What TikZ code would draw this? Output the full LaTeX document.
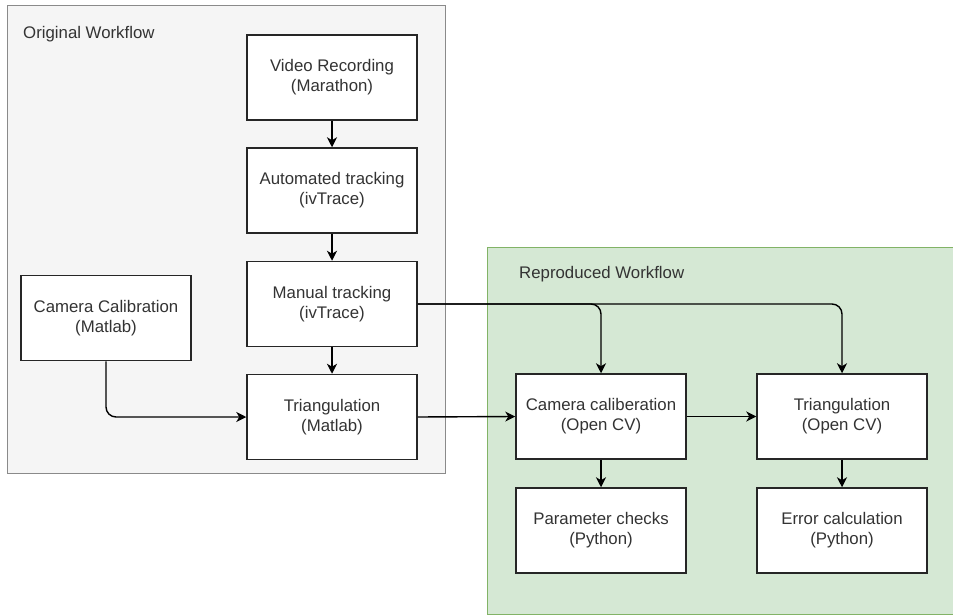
\documentclass[tikz,border=0pt]{standalone}
\usepackage{fontspec}
\setmainfont{Liberation Sans}
\usetikzlibrary{arrows.meta}
\definecolor{txt}{HTML}{333333}
\definecolor{grayfill}{HTML}{F5F5F5}
\definecolor{grayline}{HTML}{8A8A8A}
\definecolor{greenfill}{HTML}{D5E8D4}
\definecolor{greenline}{HTML}{82B366}
\tikzset{
  box/.style={draw=black!85, line width=1.5pt, fill=white, minimum width=170pt, minimum height=85pt,
    inner sep=0pt, align=center, text=txt, font=\fontsize{16.8}{20}\selectfont},
  conn/.style={line width=1.4pt, -{Stealth[length=10pt,width=10pt,inset=3pt]}, rounded corners=10pt},
  title/.style={text=txt, font=\fontsize{16.8}{20}\selectfont, anchor=west, inner sep=0pt}
}
\begin{document}
\begin{tikzpicture}[x=1pt,y=-1pt]
\useasboundingbox (0,0) rectangle (953,615);
% containers
\draw[fill=grayfill, draw=grayline, line width=1pt] (7,6) rectangle (445.5,473);
\draw[fill=greenfill, draw=greenline, line width=1pt] (487.5,247) rectangle (960,614);
\node[title] (origt) at (23,34) {Original Workflow};
\node[title] (reprt) at (519,274) {Reproduced Workflow};
% boxes
\node[box] (video) at (332,77.5) {Video Recording\\(Marathon)};
\node[box] (auto) at (332,190.5) {Automated tracking\\(ivTrace)};
\node[box] (manual) at (332,304) {Manual tracking\\(ivTrace)};
\node[box] (trim) at (332,417) {Triangulation\\(Matlab)};
\node[box] (camcal) at (106,318) {Camera Calibration\\(Matlab)};
\node[box] (camcv) at (601,416.5) {Camera caliberation\\(Open CV)};
\node[box] (tricv) at (842,416.5) {Triangulation\\(Open CV)};
\node[box] (param) at (601,530.5) {Parameter checks\\(Python)};
\node[box] (err) at (842,530.5) {Error calculation\\(Python)};
% connectors
\draw[conn] (video) -- (auto);
\draw[conn] (auto) -- (manual);
\draw[conn] (manual) -- (trim);
\draw[conn] (camcal.south) |- (trim.west);
\draw[conn] (manual.east) -| (camcv.north);
\draw[conn] (manual.east) -| (tricv.north);
\draw[conn] (trim.east) -- (camcv.west);
\draw[conn] (camcv.east) -- (tricv.west);
\draw[conn] (camcv) -- (param);
\draw[conn] (tricv) -- (err);
\end{tikzpicture}
\end{document}
